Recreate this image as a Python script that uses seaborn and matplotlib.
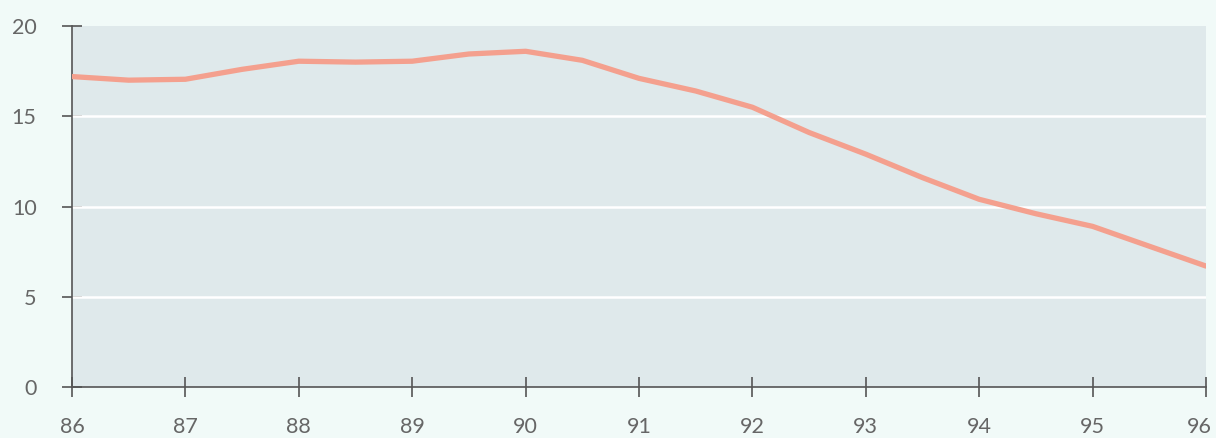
import matplotlib
matplotlib.use("Agg")
import matplotlib.pyplot as plt
import matplotlib.transforms as mtransforms
import seaborn as sns
import pandas as pd

years = [86, 86.5, 87, 87.5, 88, 88.5, 89, 89.5, 90, 90.5, 91, 91.5, 92, 92.5, 93, 93.5, 94, 94.5, 95, 95.5, 96]
values = [17.2, 17.0, 17.05, 17.6, 18.05, 18.0, 18.05, 18.45, 18.6, 18.1, 17.1, 16.4, 15.5, 14.1, 12.9, 11.6, 10.4, 9.6, 8.9, 7.8, 6.7]
x_ticks = [86, 87, 88, 89, 90, 91, 92, 93, 94, 95, 96]
y_ticks = [0, 5, 10, 15, 20]

df = pd.DataFrame({"year": years, "value": values})

sns.set_theme(style="white")
plt.rcParams['font.family'] = ['Lato', 'DejaVu Sans']

fig = plt.figure(figsize=(12.16, 4.38), dpi=100, facecolor="#f1faf8")
ax = fig.add_axes([0.0592, 0.1164, 0.9326, 0.8242])
ax.set_facecolor("#dfe9eb")

for yv in [5, 10, 15]:
    ax.axhline(yv, color="white", lw=1.8, zorder=1)

sns.lineplot(data=df, x="year", y="value", ax=ax, color="#f4a08e", lw=3.8, zorder=3)

ax.set_xlim(86, 96)
ax.set_ylim(0, 20)
ax.set_xticks(x_ticks)
ax.set_xticklabels([str(t) for t in x_ticks])
ax.set_yticks(y_ticks)
ax.set_yticklabels([str(t) for t in y_ticks])
ax.set_xlabel("")
ax.set_ylabel("")

for s in ["top", "right"]:
    ax.spines[s].set_visible(False)
for s in ["left", "bottom"]:
    ax.spines[s].set_color("#555555")
    ax.spines[s].set_linewidth(1.2)

ax.tick_params(axis="both", which="major", bottom=True, left=True, direction="inout",
               length=15, width=1.2, color="#555555", labelcolor="#666666", labelsize=15.5)
ax.tick_params(axis="x", pad=14)
ax.tick_params(axis="y", pad=18)
ax.grid(False)

# nudge the last x label left so it stays inside the figure
last = ax.get_xticklabels()[-1]
last.set_transform(last.get_transform() + mtransforms.ScaledTranslation(-7 / 100, 0, fig.dpi_scale_trans))

fig.savefig("out.png", dpi=100, facecolor=fig.get_facecolor())
